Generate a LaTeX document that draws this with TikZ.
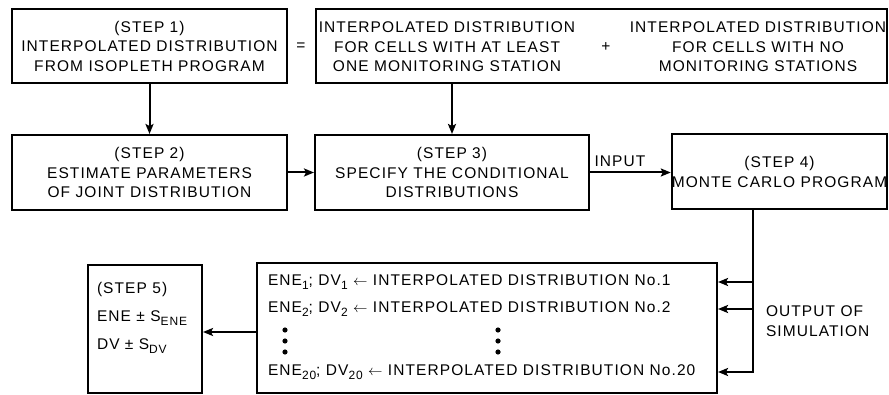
\documentclass[tikz,border=0pt]{standalone}
\usepackage{fontspec}
\usetikzlibrary{arrows.meta}
\setmainfont{Liberation Sans}[LetterSpace=7]
\newcommand{\idx}[1]{\raisebox{-4.5pt}{\fontsize{12}{12}\selectfont #1}}
\begin{document}
\begin{tikzpicture}[x=1pt,y=-1pt,line width=2pt,
        box/.style={draw,rectangle,line width=2pt,inner sep=0pt,align=center,font=\fontsize{15.5}{19.5}\selectfont},
        txt/.style={inner sep=0pt,font=\fontsize{15.5}{19.5}\selectfont},
        link/.style={line width=2pt,-{Stealth[length=10pt,width=8pt,inset=2pt]}}]
    \useasboundingbox (0,0) rectangle (889,395);
    % top row
    \node[box,minimum width=275,minimum height=74] (step1) at (149.5,46)
        {(STEP 1)\\INTERPOLATED DISTRIBUTION\\FROM ISOPLETH PROGRAM};
    \node[box,minimum width=571,minimum height=74] (split) at (601,46) {};
    \node[txt,align=center] (atleast) at (447,47)
        {INTERPOLATED DISTRIBUTION\\FOR CELLS WITH AT LEAST\\ONE MONITORING STATION};
    \node[txt,align=center] (nostation) at (758,47)
        {INTERPOLATED DISTRIBUTION\\FOR CELLS WITH NO\\MONITORING STATIONS};
    \node[txt] (equals) at (301,47) {=};
    \node[txt] (plus) at (606,47) {+};
    % middle row
    \node[box,minimum width=275,minimum height=75] (step2) at (149.5,172.5)
        {(STEP 2)\\ESTIMATE PARAMETERS\\OF JOINT DISTRIBUTION};
    \node[box,minimum width=274,minimum height=75] (step3) at (452,172.5)
        {(STEP 3)\\SPECIFY THE CONDITIONAL\\DISTRIBUTIONS};
    \node[box,minimum width=215,minimum height=75] (step4) at (779.5,172)
        {(STEP 4)\\MONTE CARLO PROGRAM};
    \node[txt] (input) at (620,161) {INPUT};
    % bottom row
    \node[box,minimum width=460,minimum height=129] (runs) at (487,328) {};
    \node[txt,anchor=west] (r1) at (267,282) {ENE\idx{1}; DV\idx{1} $\leftarrow$ INTERPOLATED DISTRIBUTION No.1};
    \node[txt,anchor=west] (r2) at (267,309) {ENE\idx{2}; DV\idx{2} $\leftarrow$ INTERPOLATED DISTRIBUTION No.2};
    \node[txt,anchor=west] (r20) at (267,372) {ENE\idx{20}; DV\idx{20} $\leftarrow$ INTERPOLATED DISTRIBUTION No.20};
    \foreach \y in {330,341,352} {
        \fill (285,\y) circle (2.6);
        \fill (498,\y) circle (2.6);
    }
    \node[box,minimum width=114,minimum height=127] (step5) at (145,329) {};
    \node[txt,anchor=west,align=left,font=\fontsize{15.5}{28}\selectfont] (step5txt) at (96,318)
        {(STEP 5)\\ENE \textpm{} S\idx{ENE}\\DV \textpm{} S\idx{DV}};
    \node[txt,anchor=west,align=left,font=\fontsize{15.5}{20}\selectfont] (output) at (765,321)
        {OUTPUT OF\\SIMULATION};
    % connectors
    \draw [link] (step1) -- (step2);
    \draw [link] (step3.north |- split.south) -- (step3);
    \draw [link] (step2) -- (step3);
    \draw [link] (step3) -- (step3 -| step4.west);
    \coordinate (bus) at (753,372);
    \draw [link] (bus |- step4.south) -- (bus) -- (bus -| runs.east);
    \draw [link] (bus |- r1) -- (r1 -| runs.east);
    \draw [link] (bus |- r2) -- (r2 -| runs.east);
    \draw [link] (runs.west |- 0,332) -- (step5.east |- 0,332);
\end{tikzpicture}
\end{document}
